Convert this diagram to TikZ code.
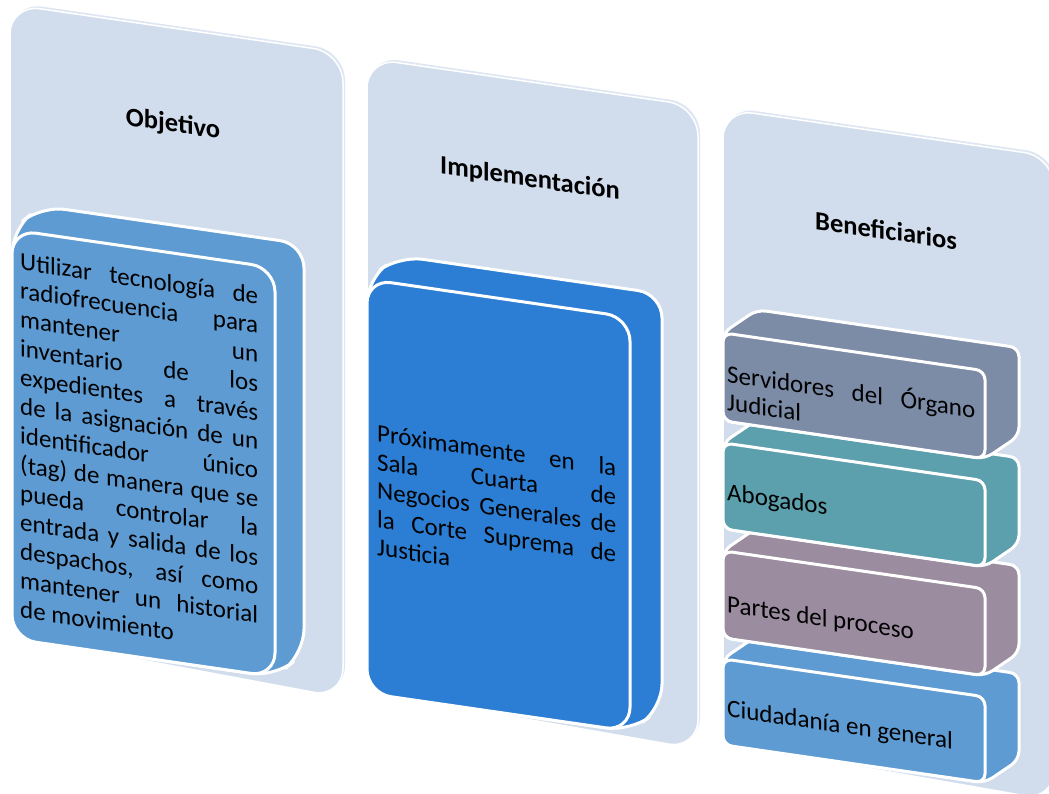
\documentclass[tikz,border=0pt]{standalone}
\usepackage{fontspec}
\setmainfont{Carlito}
\definecolor{panelbg}{HTML}{D1DDEC}
\definecolor{panelrim}{HTML}{DDE6F2}
\definecolor{boxA}{HTML}{5E9BD2}
\definecolor{boxB}{HTML}{2B7ED3}
\definecolor{boxGray}{HTML}{7C8BA6}
\definecolor{boxTeal}{HTML}{5BA0AC}
\definecolor{boxMauve}{HTML}{9B8CA0}
\tikzset{
  titletext/.style={font=\fontsize{26.5}{30}\selectfont\bfseries, inner sep=0pt, anchor=base, text=black},
  bodytext/.style={font=\fontsize{25}{29}\selectfont, inner sep=0pt, anchor=base west, text=black},
  panelshape/.style={fill=panelbg, draw=white, line width=1.5pt, rounded corners=30pt},
  rimshape/.style={fill=panelrim, rounded corners=30pt},
  faceshape/.style={draw=white, line width=3pt, line join=round},
}
% x0, x1, vtop, vbotleft, vbotright
\newcommand{\panelbox}[5]{%
  \fill[rimshape] ({#1+2},{-(#3+#4)/2+2.5}) -- ({#1+2},{-#3+2.5}) -- ({#2+2},{-#3+2.5}) -- ({#2+2},{-#5+2.5}) -- ({#1+2},{-#4+2.5}) -- cycle;
  \filldraw[panelshape] (#1,{-(#3+#4)/2}) -- (#1,-#3) -- (#2,-#3) -- (#2,-#5) -- (#1,-#4) -- cycle;
}
% x0, x1, vtop, vbot, dx, dv, colour, radius
\newcommand{\cubebox}[8]{%
  \filldraw[faceshape, fill=#7, rounded corners=#8]
    (#1,{-(#3+#4)/2}) -- (#1,-#3) -- ({#1+#5},{-#3+#6}) -- ({#2+#5},{-#3+#6})
    -- ({#2+#5},{-#4+#6}) -- (#2,-#4) -- (#1,-#4) -- cycle;
  \filldraw[faceshape, fill=#7, rounded corners=#8] (#1,-#3) rectangle (#2,-#4);
}
\begin{document}
\begin{tikzpicture}[x=1pt,y=1pt]
\useasboundingbox (0,0) rectangle (1049,-794);
\begin{scope}[yslant=-0.145, transform shape]
  % background panels
  \panelbox{10}{343}{3}{634}{648}
  \panelbox{367}{698}{5}{638}{648}
  \panelbox{723}{1054}{4}{638}{648}
  % titles
  \node[titletext] (t1) at (173,-107) {Objetivo};
  \node[titletext] (t2) at (530,-110) {Implementación};
  \node[titletext] (t3) at (886,-111) {Beneficiarios};
  % panel 1 box
  \cubebox{12}{275}{228}{637}{29}{28}{boxA}{24pt}
  \foreach \ln [count=\k from 0] in {Utilizar tecnología de, radiofrecuencia para, mantener un,
      inventario de los, expedientes a través, de la asignación de un, identificador único,
      (tag) de manera que se, pueda controlar la, entrada y salida de los,
      {despachos, así como}, mantener un historial}
    \node[bodytext] (obj\k) at (20,{-267-29*\k}) {\makebox[238pt][s]{\ln}};
  \node[bodytext] (obj12) at (20,{-267-29*12}) {de movimiento};
  % panel 2 box
  \cubebox{367}{630}{226}{640}{32}{28}{boxB}{24pt}
  \foreach \ln [count=\k from 0] in {Próximamente en la, Sala Cuarta de, Negocios Generales de,
      la Corte Suprema de}
    \node[bodytext] (imp\k) at (377,{-387-28.5*\k}) {\makebox[239pt][s]{\ln}};
  \node[bodytext] (imp4) at (377,{-387-28.5*4}) {Justicia};
  % panel 3 boxes (bottom first)
  \cubebox{723}{985}{554}{640}{34}{28}{boxA}{9pt}
  \cubebox{723}{985}{446}{533}{34}{28}{boxMauve}{9pt}
  \cubebox{723}{985}{338}{424}{34}{28}{boxTeal}{9pt}
  \cubebox{723}{985}{228}{316}{34}{28}{boxGray}{9pt}
  \node[bodytext] (b1) at (727,-277) {\makebox[248pt][s]{Servidores del Órgano}};
  \node[bodytext] (b1b) at (727,-305) {Judicial};
  \node[bodytext] (b2) at (727,-395) {Abogados};
  \node[bodytext] (b3) at (727,-507) {Partes del proceso};
  \node[bodytext] (b4) at (727,-611) {Ciudadanía en general};
\end{scope}
\end{tikzpicture}
\end{document}
